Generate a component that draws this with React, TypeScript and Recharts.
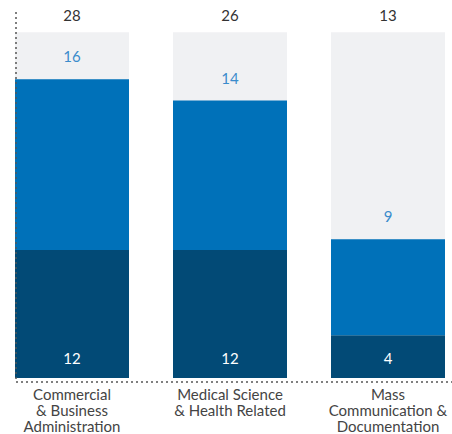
import * as R from "recharts";
import { BarChart, Bar, XAxis, YAxis, LabelList } from "recharts";
import { useEffect, useRef, useState } from "react";
import { createPortal } from "react-dom";

// categories and values
const categories = [
  "Commercial\n& Business\nAdministration",
  "Medical Science\n& Health Related",
  "Mass\nCommunication &\nDocumentation",
];
const baseValues = [12, 12, 4];
const topValues = [16, 14, 9];
const totals = [28, 26, 13];
const capacity = [32.4, 32.4, 32.4];

const data = categories.map((name, i) => ({
  name,
  base: baseValues[i],
  top: topValues[i],
  total: totals[i],
  cap: capacity[i],
}));

const FONT = "Lato, 'Open Sans', sans-serif";
const AXIS_LINE = { stroke: "#555", strokeDasharray: "2 3", strokeWidth: 1.5 };

const usePlot: any = (R as any).usePlotArea ?? (R as any).useOffset;

// dotted left axis, moved to the end of the svg so it sits over the bars
const LeftAxisLine = () => {
  const area = usePlot ? usePlot() : null;
  const ref = useRef<SVGGElement>(null);
  const [svg, setSvg] = useState<SVGSVGElement | null>(null);
  useEffect(() => {
    setSvg(ref.current?.ownerSVGElement ?? null);
  }, []);
  if (!area) return null;
  const x = area.x ?? area.left;
  const top = area.y ?? area.top;
  const h = area.height;
  const line = (
    <line x1={x} x2={x} y1={top} y2={top + h} fill="none" {...AXIS_LINE} />
  );
  return <g ref={ref}>{svg ? createPortal(line, svg) : null}</g>;
};

const CategoryTick = (props: any) => {
  const { x, y, payload } = props;
  const lines = String(payload.value).split("\n");
  return (
    <text
      x={x}
      y={y}
      textAnchor="middle"
      fill="#444"
      fontSize={15}
      fontFamily={FONT}
    >
      {lines.map((line: string, i: number) => (
        <tspan key={i} x={x} dy={i === 0 ? 10 : 16}>
          {line}
        </tspan>
      ))}
    </text>
  );
};

const App = () => {
  return (
    <div style={{ position: "absolute", left: 0, top: 0 }}>
      <BarChart
        width={452}
        height={434}
        data={data}
        margin={{ top: 12, right: 0, left: 16, bottom: 0 }}
        barSize={114}
        barGap={-114}
      >
        <Bar dataKey="cap" fill="#f0f1f3" isAnimationActive={false}>
          <LabelList
            dataKey="total"
            position="top"
            offset={11}
            fill="#333"
            fontSize={15}
            fontFamily={FONT}
          />
        </Bar>
        <Bar dataKey="base" stackId="s" fill="#024a76" isAnimationActive={false}>
          <LabelList
            dataKey="base"
            position="insideBottom"
            offset={14}
            fill="#fff"
            fontSize={15}
            fontFamily={FONT}
          />
        </Bar>
        <Bar dataKey="top" stackId="s" fill="#0071b9" isAnimationActive={false}>
          <LabelList
            dataKey="top"
            position="top"
            offset={17}
            fill="#3a8ccc"
            fontSize={15}
            fontFamily={FONT}
          />
        </Bar>
        <XAxis
          dataKey="name"
          interval={0}
          tickLine={false}
          axisLine={AXIS_LINE}
          padding={{ left: -23, right: -15 }}
          tick={<CategoryTick />}
          height={52}
        />
        <YAxis
          width={0}
          domain={[-0.37, 34.3]}
          tick={false}
          tickLine={false}
          axisLine={false}
        />
        <LeftAxisLine />
      </BarChart>
    </div>
  );
};

export default App;
